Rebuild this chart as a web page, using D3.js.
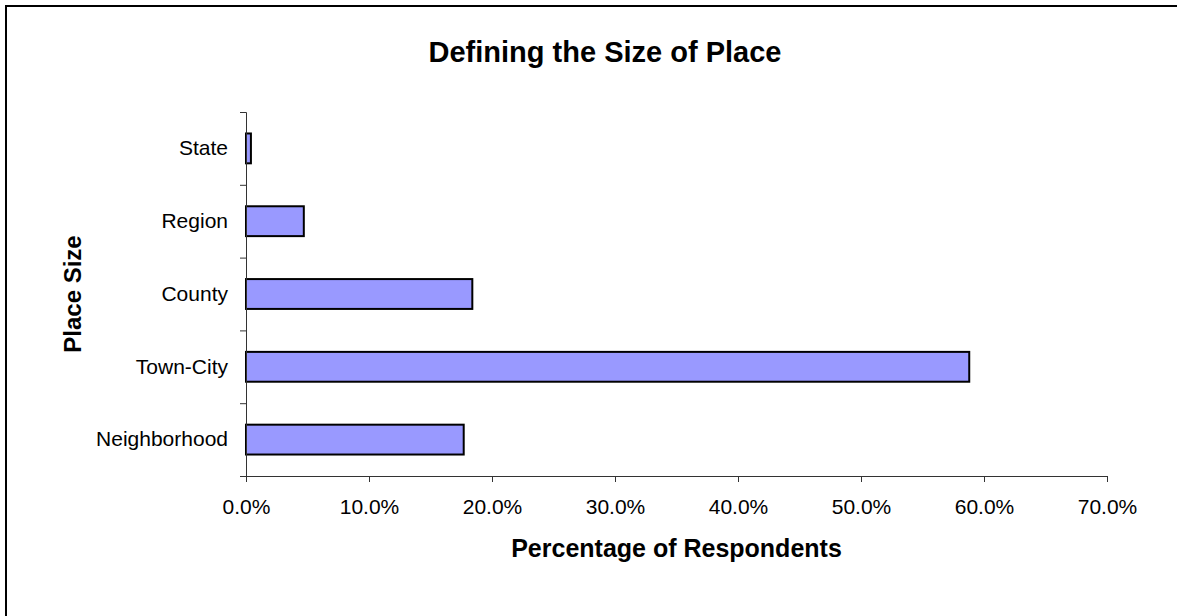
<!DOCTYPE html>
<html>
<head>
<meta charset="utf-8">
<script src="https://cdn.jsdelivr.net/npm/d3@7"></script>
<style>
  body { margin: 0; background: #fff; }
  text { font-family: "Liberation Sans", Arial, sans-serif; fill: #000; }
</style>
</head>
<body>
<svg id="chart" width="1177" height="616"></svg>
<script>
// categories listed top to bottom, as drawn
const categories = ["State", "Region", "County", "Town-City", "Neighborhood"];
const percents = [0.4, 4.7, 18.4, 58.8, 17.7];
const xTicks = [0, 10, 20, 30, 40, 50, 60, 70];

const svg = d3.select("#chart");

// outer chart border (runs off the right and bottom edges)
svg.append("rect")
  .attr("x", 6).attr("y", 6)
  .attr("width", 1300).attr("height", 800)
  .attr("fill", "none")
  .attr("stroke", "#000")
  .attr("stroke-width", 2);

const plot = { left: 246, right: 1107, top: 112, bottom: 476 };

const x = d3.scaleLinear().domain([0, 70]).range([plot.left, plot.right]);
const y = d3.scaleBand()
  .domain(categories)
  .range([plot.top, plot.bottom])
  .paddingInner(0.59)
  .paddingOuter(0.295);

// title
svg.append("text")
  .attr("x", 605).attr("y", 62)
  .attr("text-anchor", "middle")
  .style("font-size", "29px")
  .style("font-weight", "bold")
  .text("Defining the Size of Place");

// bars
svg.append("g")
  .selectAll("rect")
  .data(categories)
  .join("rect")
  .attr("x", x(0))
  .attr("y", d => y(d))
  .attr("width", (d, i) => x(percents[i]) - x(0))
  .attr("height", y.bandwidth())
  .attr("fill", "#9999ff")
  .attr("stroke", "#000")
  .attr("stroke-width", 2);

// x axis
const xAxis = svg.append("g")
  .attr("transform", `translate(0,${plot.bottom})`)
  .call(d3.axisBottom(x).tickValues(xTicks).tickSize(6).tickPadding(17)
    .tickFormat(d => d.toFixed(1) + "%"));
xAxis.select(".domain").attr("stroke", "#333");
xAxis.selectAll(".tick line").attr("stroke", "#333");
xAxis.selectAll("text")
  .style("font-size", "21px")
  .style("font-family", "Liberation Sans, Arial, sans-serif")
  .attr("fill", "#000");

// y axis: labels at band centres, ticks at band boundaries
const yAxis = svg.append("g")
  .attr("transform", `translate(${plot.left},0)`)
  .call(d3.axisLeft(y).tickSize(0).tickPadding(18));
yAxis.select(".domain").remove();
yAxis.selectAll("text")
  .style("font-size", "21px")
  .style("font-family", "Liberation Sans, Arial, sans-serif")
  .attr("fill", "#000");

const yEdge = d3.scaleLinear().domain([0, categories.length]).range([plot.top, plot.bottom]);
const yTickAxis = svg.append("g")
  .attr("transform", `translate(${plot.left},0)`)
  .call(d3.axisLeft(yEdge).tickValues(d3.range(0, categories.length)).tickSize(6).tickFormat(""));
yTickAxis.select(".domain").attr("stroke", "#333");
yTickAxis.selectAll(".tick line").attr("stroke", "#333");

// axis titles
svg.append("text")
  .attr("x", (plot.left + plot.right) / 2).attr("y", 557)
  .attr("text-anchor", "middle")
  .style("font-size", "25px")
  .style("font-weight", "bold")
  .text("Percentage of Respondents");

svg.append("text")
  .attr("transform", `translate(81,${(plot.top + plot.bottom) / 2}) rotate(-90)`)
  .attr("text-anchor", "middle")
  .style("font-size", "24px")
  .style("font-weight", "bold")
  .text("Place Size");
</script>
</body>
</html>
